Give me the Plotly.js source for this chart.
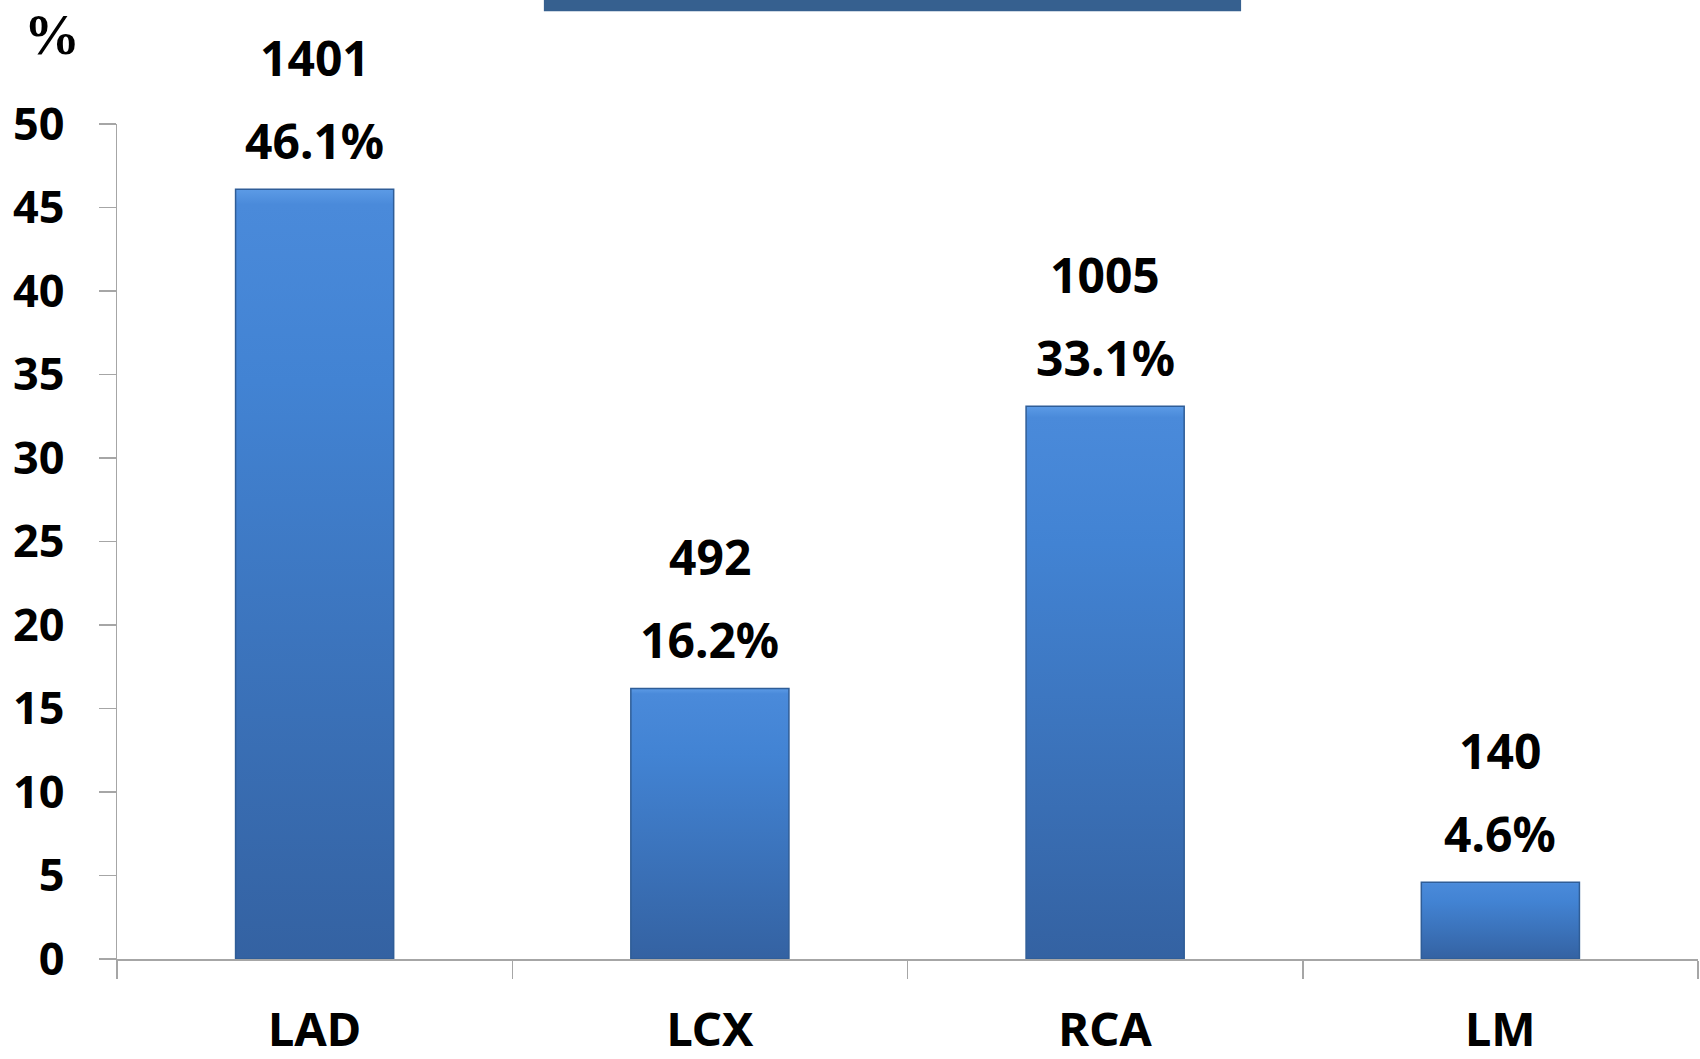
<!DOCTYPE html>
<html>
<head>
<meta charset="utf-8">
<script src="https://cdn.plot.ly/plotly-3.0.1.min.js"></script>
<style>
  html, body { margin: 0; padding: 0; background: #ffffff; }
  #chart { width: 1700px; height: 1059px; }
</style>
</head>
<body>
<div id="chart"></div>
<script>
// Lesion distribution by coronary vessel
const vessels = ['LAD', 'LCX', 'RCA', 'LM'];
const percents = [46.1, 16.2, 33.1, 4.6];
const counts = [1401, 492, 1005, 140];
const yTicks = [0, 5, 10, 15, 20, 25, 30, 35, 40, 45, 50];

const sansBold = 'Noto Sans, Open Sans, sans-serif';
const labelFont = { family: sansBold, size: 48, color: '#000000', weight: 700 };

const bars = {
  type: 'bar',
  x: vessels,
  y: percents,
  marker: { color: '#3C76C2', line: { color: '#2F5D97', width: 1.5 } },
  hoverinfo: 'x+y',
  cliponaxis: false
};

// Two value labels stacked above every bar: case count and share
const annotations = [];
vessels.forEach((v, i) => {
  annotations.push({
    x: v, y: percents[i], xref: 'x', yref: 'y',
    text: percents[i].toFixed(1) + '%',
    showarrow: false, yanchor: 'middle', yshift: 49,
    font: labelFont
  });
  annotations.push({
    x: v, y: percents[i], xref: 'x', yref: 'y',
    text: String(counts[i]),
    showarrow: false, yanchor: 'middle', yshift: 132,
    font: labelFont
  });
});

// Unit marker at the top of the value axis
annotations.push({
  xref: 'paper', yref: 'paper', x: -0.0411, y: 1.106,
  text: '<b>%</b>', showarrow: false, xanchor: 'center', yanchor: 'middle',
  font: { family: 'Liberation Serif, Times New Roman, serif', size: 56, color: '#000000', weight: 700 }
});

const layout = {
  width: 1700,
  height: 1059,
  margin: { l: 117, r: 2, t: 124, b: 100, pad: 0 },
  paper_bgcolor: '#ffffff',
  plot_bgcolor: '#ffffff',
  showlegend: false,
  bargap: 0.6,
  xaxis: {
    type: 'category',
    categoryorder: 'array',
    categoryarray: vessels,
    tickson: 'boundaries',
    ticks: 'outside',
    ticklen: 18,
    tickwidth: 1.5,
    tickcolor: '#A6A6A6',
    showline: true,
    linecolor: '#A6A6A6',
    linewidth: 1.5,
    showgrid: false,
    zeroline: false,
    ticklabelstandoff: 29,
    tickfont: { family: sansBold, size: 47, color: '#000000', weight: 700 }
  },
  yaxis: {
    range: [0, 50],
    tickvals: yTicks,
    ticktext: yTicks.map(String),
    ticks: 'outside',
    ticklen: 17,
    tickwidth: 1.5,
    tickcolor: '#A6A6A6',
    showline: true,
    linecolor: '#A6A6A6',
    linewidth: 1.5,
    showgrid: false,
    zeroline: false,
    ticklabelstandoff: 25,
    tickfont: { family: sansBold, size: 45, color: '#000000', weight: 700 }
  },
  shapes: [{
    type: 'rect', xref: 'paper', yref: 'paper',
    x0: 0.270, x1: 0.711, y0: 1.135, y1: 1.16,
    fillcolor: '#36608F', line: { width: 0 }
  }],
  annotations: annotations
};

Plotly.newPlot('chart', [bars], layout, { displayModeBar: false, staticPlot: true }).then(gd => {
  // vertical shading on the bars: lighter at the top, darker at the base
  const svg = gd.querySelector('svg.main-svg');
  const ns = 'http://www.w3.org/2000/svg';
  let defs = svg.querySelector('defs');
  if (!defs) { defs = document.createElementNS(ns, 'defs'); svg.insertBefore(defs, svg.firstChild); }
  const grad = document.createElementNS(ns, 'linearGradient');
  grad.setAttribute('id', 'barShade');
  grad.setAttribute('x1', '0'); grad.setAttribute('y1', '0');
  grad.setAttribute('x2', '0'); grad.setAttribute('y2', '1');
  [['0', '#5C9BE6'], ['0.02', '#4A8ADA'], ['0.25', '#4283D3'], ['1', '#3462A2']].forEach(([o, c]) => {
    const s = document.createElementNS(ns, 'stop');
    s.setAttribute('offset', o); s.setAttribute('stop-color', c);
    grad.appendChild(s);
  });
  defs.appendChild(grad);
  gd.querySelectorAll('.bars .point path').forEach(p => { p.style.fill = 'url(#barShade)'; });
});
</script>
</body>
</html>
